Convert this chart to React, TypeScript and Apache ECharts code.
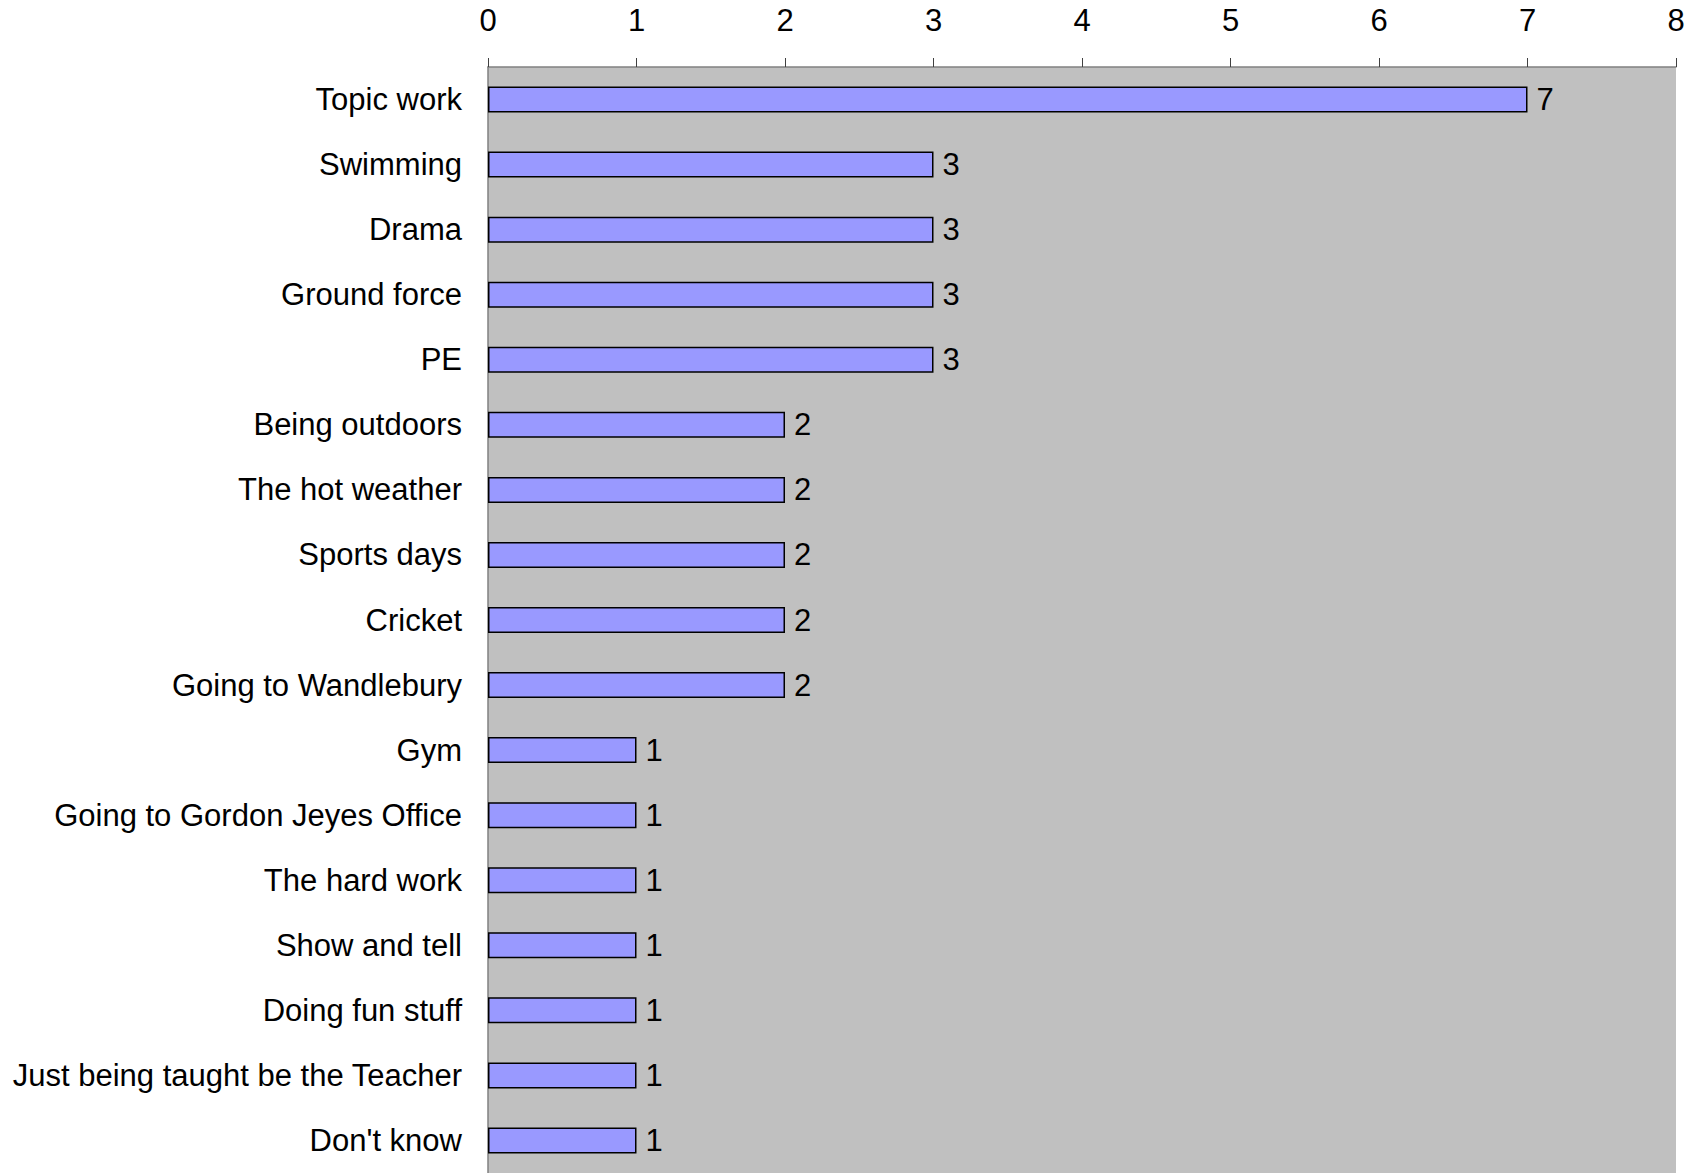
import React, { useEffect, useRef } from "react";
import * as echarts from "echarts";

const categories = [
  "Topic work",
  "Swimming",
  "Drama",
  "Ground force",
  "PE",
  "Being outdoors",
  "The hot weather",
  "Sports days",
  "Cricket",
  "Going to Wandlebury",
  "Gym",
  "Going to Gordon Jeyes Office",
  "The hard work",
  "Show and tell",
  "Doing fun stuff",
  "Just being taught be the Teacher",
  "Don't know",
];

const values = [7, 3, 3, 3, 3, 2, 2, 2, 2, 2, 1, 1, 1, 1, 1, 1, 1];

const FONT = "'Liberation Sans', Arial, sans-serif";

export default function App() {
  const ref = useRef<HTMLDivElement>(null);
  useEffect(() => {
    document.body.style.margin = "0";
    const chart = echarts.init(ref.current!, null, { renderer: "svg" });
    chart.setOption({
      animation: false,
      backgroundColor: "#ffffff",
      textStyle: { fontFamily: FONT },
      grid: {
        left: 488,
        top: 67,
        width: 1188,
        height: 1108,
        show: true,
        backgroundColor: "#C0C0C0",
        borderWidth: 0,
        containLabel: false,
      },
      xAxis: {
        type: "value",
        position: "top",
        min: 0,
        max: 8,
        interval: 1,
        axisLine: { show: true, lineStyle: { color: "#808080", width: 1.5 } },
        axisTick: { show: true, inside: false, length: 9, lineStyle: { color: "#404040", width: 1 } },
        axisLabel: { fontSize: 31, color: "#000", margin: 31, fontFamily: FONT },
        splitLine: { show: false },
      },
      yAxis: {
        type: "category",
        data: categories,
        inverse: true,
        axisLine: { show: true, lineStyle: { color: "#808080", width: 1.5 } },
        axisTick: { show: false },
        axisLabel: { fontSize: 31, color: "#000", margin: 26, fontFamily: FONT },
        splitLine: { show: false },
      },
      series: [
        {
          type: "bar",
          data: values,
          barWidth: 26,
          itemStyle: { color: "#9999FF", borderColor: "#000000", borderWidth: 1.5 },
          label: {
            show: true,
            position: "right",
            distance: 9,
            fontSize: 31,
            color: "#000",
            fontFamily: FONT,
          },
        },
      ],
    });
    return () => chart.dispose();
  }, []);
  return (
    <div
      ref={ref}
      style={{ position: "absolute", left: 0, top: 0, width: 1696, height: 1173 }}
    />
  );
}
